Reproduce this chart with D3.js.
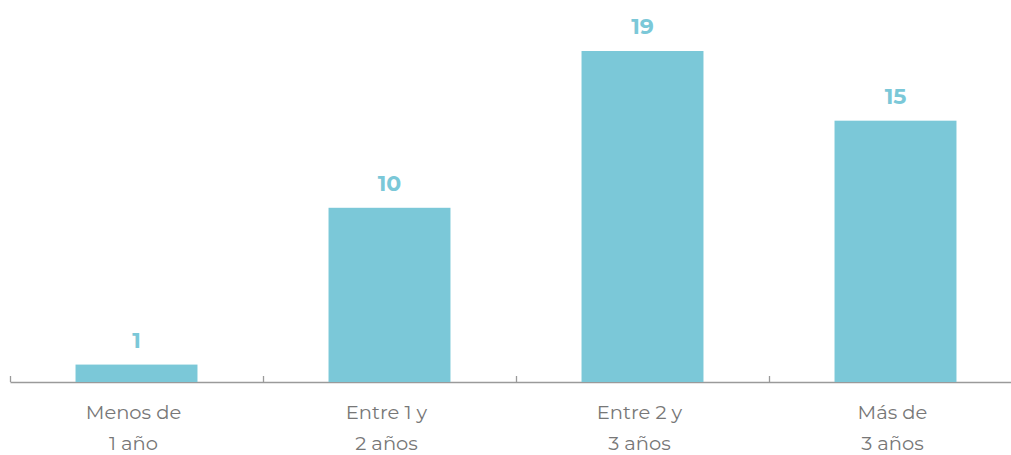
<!DOCTYPE html>
<html>
<head>
<meta charset="utf-8">
<script src="https://cdn.jsdelivr.net/npm/d3@7"></script>
<style>
  body { margin: 0; background: #fff; }
  svg { display: block; }
</style>
</head>
<body>
<div id="vis"></div>
<script>
var categories = [['Menos de', '1 año'], ['Entre 1 y', '2 años'], ['Entre 2 y', '3 años'], ['Más de', '3 años']];
var values = [1, 10, 19, 15];

var width = 1011;
var height = 455;
var baseY = 382;
var left = 10;
var right = 1022;

var svg = d3.select('#vis').append('svg').attr('width', width).attr('height', height);

var x = d3.scaleBand()
  .domain(d3.range(categories.length))
  .range([left, right])
  .paddingInner(0.518)
  .paddingOuter(0.259);

var y = d3.scaleLinear().domain([0, 19]).range([baseY, 51]);

// tick positions sit on the band edges
var edge = d3.scaleLinear().domain([0, categories.length]).range([left, right]);

var axis = svg.append('g')
  .attr('transform', 'translate(0,' + baseY + ')')
  .call(d3.axisBottom(edge).tickValues(d3.range(categories.length + 1)).tickSize(-6).tickSizeOuter(0).tickFormat(''));
axis.select('.domain').attr('stroke', '#9a9a9a').attr('stroke-width', 1.3);
axis.selectAll('.tick line').attr('stroke', '#9a9a9a').attr('stroke-width', 1.3);

svg.selectAll('.bar')
  .data(values)
  .enter()
  .append('rect')
  .attr('class', 'bar')
  .attr('x', (d, i) => x(i))
  .attr('y', (d) => y(d))
  .attr('width', x.bandwidth())
  .attr('height', (d) => baseY - y(d))
  .attr('fill', '#7bc8d8');

svg.selectAll('.val')
  .data(values)
  .enter()
  .append('text')
  .attr('class', 'val')
  .attr('x', (d, i) => x(i) + x.bandwidth() / 2)
  .attr('y', (d) => y(d) - 17)
  .attr('text-anchor', 'middle')
  .attr('font-family', 'Montserrat, "Noto Sans", sans-serif')
  .attr('font-weight', 'bold')
  .attr('font-size', 22)
  .attr('fill', '#7bc8d8')
  .text((d) => d);

var lab = svg.selectAll('.lab')
  .data(categories)
  .enter()
  .append('text')
  .attr('class', 'lab')
  .attr('text-anchor', 'middle')
  .attr('font-family', 'Montserrat, "Noto Sans", sans-serif')
  .attr('font-size', 19.5)
  .attr('fill', '#777');

lab.append('tspan')
  .attr('x', (d, i) => x(i) + x.bandwidth() / 2 - 3)
  .attr('y', 419)
  .text((d) => d[0]);
lab.append('tspan')
  .attr('x', (d, i) => x(i) + x.bandwidth() / 2 - 3)
  .attr('y', 450)
  .text((d) => d[1]);
</script>
</body>
</html>
